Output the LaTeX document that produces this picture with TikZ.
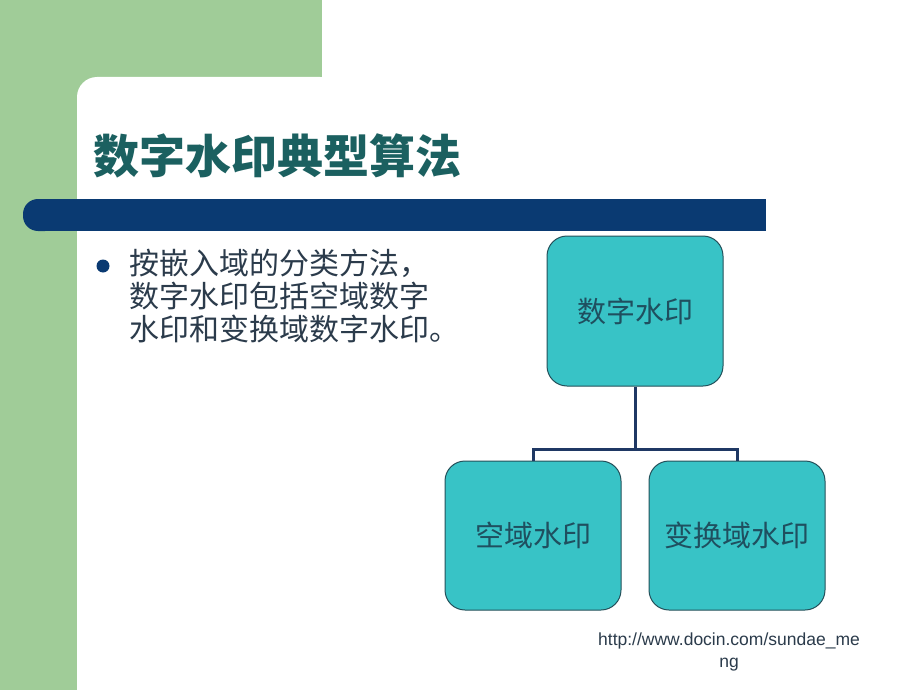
\documentclass[tikz,border=0pt]{standalone}
\usepackage{fontspec}
\setmainfont{Liberation Sans}
\newfontfamily\cjk{Noto Sans CJK SC}
\usetikzlibrary{positioning}
\definecolor{slidegreen}{HTML}{A0CC98}
\definecolor{barnavy}{HTML}{0A3A72}
\definecolor{titleteal}{HTML}{1B6060}
\definecolor{boxfill}{HTML}{38C3C6}
\definecolor{boxline}{HTML}{24505A}
\definecolor{boxtext}{HTML}{1F4F5F}
\definecolor{bodytext}{HTML}{2B3B4B}
\definecolor{linknavy}{HTML}{1F3864}
\tikzset{
  OrgBox/.style = {
    draw = boxline, fill = boxfill, line width = 1pt,
    rounded corners = 20pt,
    minimum width = 176pt, minimum height = 150pt,
    text = boxtext, font = \cjk\fontsize{29}{33}\selectfont,
  },
  Link/.style = {
    draw = linknavy, line width = 3pt,
  }
}

\begin{document}
\begin{tikzpicture}[x=1pt, y=-1pt]
      \useasboundingbox (0,0) rectangle (920,690);
      % slide background
      \fill[white] (0,0) rectangle (920,690);
      \fill[slidegreen] (0,0) rectangle (322,77);
      \fill[slidegreen] (0,0) rectangle (110,690);
      \fill[white, rounded corners=20pt] (77,77) rectangle (340,200);
      \fill[white] (97,77) rectangle (340,200);
      \fill[white] (77,97) rectangle (120,690);
      \fill[barnavy, rounded corners=15pt] (23,199) rectangle (60,231);
      \fill[barnavy] (40,199) rectangle (766,231);
      \node[anchor=west, text=titleteal, font=\cjk\bfseries\fontsize{46}{50}\selectfont]
        (title) at (90,156) {数字水印典型算法};
      % bullet text
      \fill[barnavy] (103,266) circle (6.5pt);
      \node[anchor=north west, inner sep=0pt, align=left, text=bodytext,
        font=\cjk\fontsize{30}{33}\selectfont] (body) at (129,249)
        {按嵌入域的分类方法，\\数字水印包括空域数字\\水印和变换域数字水印。};
      % chart
      \node[OrgBox] (root) at (635,311) {数字水印};
      \node[OrgBox, minimum height=149pt] (spatial) at (533,535.5) {空域水印};
      \node[OrgBox, minimum height=149pt] (transform) at (737,535.5) {变换域水印};
      \coordinate (fork) at (635,449);
      \draw[Link] (root.south) -- (fork);
      \draw[Link] (spatial.north) |- (fork) -| (transform.north);
      \node[align=center, text=bodytext, font=\fontsize{17.5}{22}\selectfont]
        (url) at (729,652) {http://www.docin.com/sundae\_me\\ng};
    \end{tikzpicture}
\end{document}
